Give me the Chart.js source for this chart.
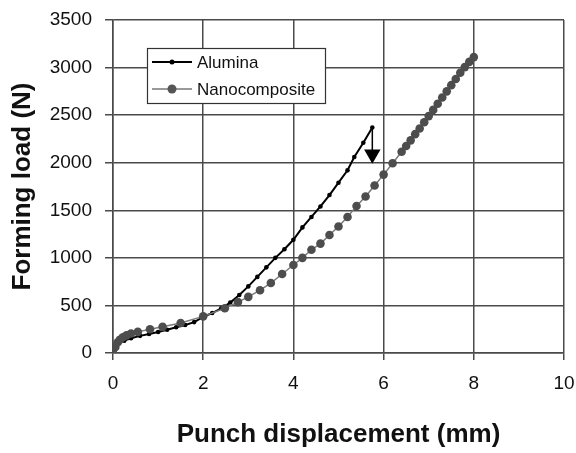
<!DOCTYPE html>
<html>
<head>
<meta charset="utf-8">
<script src="https://cdn.jsdelivr.net/npm/chart.js@4.4.1/dist/chart.umd.min.js"></script>
<style>
  html, body { margin: 0; padding: 0; background: #fff; }
  #wrap { width: 576px; height: 453px; }
</style>
</head>
<body>
<div id="wrap"><canvas id="myChart"></canvas></div>
<script>
// punch displacement (mm) / forming load (N)
let aluminaX = [0, 0.03, 0.08, 0.15, 0.25, 0.4, 0.6, 0.8, 1.0, 1.2, 1.4, 1.6, 1.8, 2.0,
    2.2, 2.4, 2.6, 2.8, 3.0, 3.2, 3.4, 3.6, 3.8, 4.0, 4.2, 4.4, 4.6, 4.8, 5.0, 5.2, 5.35, 5.55, 5.75];
let aluminaY = [0, 40, 80, 110, 130, 155, 180, 200, 220, 245, 270, 295, 325, 380,
    420, 470, 530, 610, 700, 800, 900, 1000, 1090, 1190, 1320, 1430, 1540, 1660, 1790, 1920, 2060, 2210, 2370];

let nanoX = [0, 0.05, 0.1, 0.15, 0.22, 0.3, 0.4, 0.55, 0.82, 1.1, 1.5, 2.0, 2.48, 2.77, 3.0, 3.26, 3.5,
    3.75, 4.0, 4.2, 4.4, 4.6, 4.8, 5.0, 5.2, 5.4, 5.6, 5.8, 6.0, 6.2, 6.4, 6.5, 6.6, 6.7, 6.8, 6.9,
    7.0, 7.1, 7.2, 7.3, 7.4, 7.5, 7.6, 7.7, 7.8, 7.9, 8.0];
let nanoY = [0, 60, 110, 140, 165, 185, 205, 222, 250, 275, 315, 385, 470, 535, 590, 660, 735,
    830, 925, 1000, 1085, 1150, 1240, 1330, 1430, 1545, 1645, 1760, 1875, 1995, 2115, 2175, 2235, 2300, 2360, 2425,
    2490, 2555, 2620, 2685, 2750, 2815, 2880, 2945, 3005, 3060, 3110];

// arrow drop after alumina failure
let arrowTipLoad = 2090;

let xTicks = [0, 2, 4, 6, 8, 10];
let yTicks = [0, 500, 1000, 1500, 2000, 2500, 3000, 3500];

let seriesNames = ['Alumina', 'Nanocomposite'];

function toPoints(xs, ys) {
    return xs.map(function(x, i) { return {x: x, y: ys[i]}; });
}

let FONT = "'Liberation Sans', Arial, Helvetica, sans-serif";
let GRID = '#4a4a4a';

let lastX = aluminaX[aluminaX.length - 1];
let lastY = aluminaY[aluminaY.length - 1];

// legend box drawn inside the plot, like the original
let boxLegend = {
    id: 'boxLegend',
    afterDatasetsDraw: function(chart) {
        let ctx = chart.ctx;
        let area = chart.chartArea;
        let bx = area.left + 34, by = area.top + 28, bw = 178, bh = 55;
        ctx.save();
        ctx.fillStyle = '#fff';
        ctx.fillRect(bx, by, bw, bh);
        ctx.strokeStyle = '#333';
        ctx.lineWidth = 1.2;
        ctx.strokeRect(bx + 0.5, by + 0.5, bw, bh);

        let items = [
            {text: seriesNames[0], color: '#000', width: 2, r: 2.5, y: by + 14},
            {text: seriesNames[1], color: '#777', width: 1.5, r: 4.5, y: by + 41}
        ];
        items.forEach(function(it, i) {
            ctx.strokeStyle = it.color;
            ctx.lineWidth = it.width;
            ctx.beginPath();
            ctx.moveTo(bx + 5, it.y);
            ctx.lineTo(bx + 45, it.y);
            ctx.stroke();
            ctx.fillStyle = i == 0 ? '#000' : '#555';
            ctx.beginPath();
            ctx.arc(bx + 25, it.y, it.r, 0, Math.PI * 2);
            ctx.fill();
            ctx.fillStyle = '#111';
            ctx.font = '17px ' + FONT;
            ctx.textBaseline = 'middle';
            ctx.textAlign = 'left';
            ctx.fillText(it.text, bx + 50, it.y + 1);
        });
        ctx.restore();
    }
};

let data = {
    datasets: [
        {
            label: seriesNames[0],
            data: toPoints(aluminaX, aluminaY),
            borderColor: '#000',
            backgroundColor: '#000',
            borderWidth: 2,
            pointRadius: 2.3,
            pointBorderWidth: 0,
            order: 2,
        }, {
            label: seriesNames[1],
            data: toPoints(nanoX, nanoY),
            borderColor: '#7a7a7a',
            backgroundColor: '#4d4d4d',
            borderWidth: 1.5,
            pointRadius: 4.3,
            pointBorderWidth: 0,
            order: 1,
        }, {
            label: 'arrow',
            data: [{x: lastX, y: lastY}, {x: lastX, y: arrowTipLoad}],
            borderColor: '#000',
            backgroundColor: '#000',
            borderWidth: 1.5,
            pointStyle: 'triangle',
            pointRotation: 180,
            pointRadius: [0, 9.5],
            pointBorderWidth: 0,
            order: 0,
        }
    ]
};

let config = {
    type: 'line',
    data: data,
    options: {
        responsive: true,
        maintainAspectRatio: false,
        animation: false,
        layout: { padding: { top: 20, right: 12, bottom: 0, left: 0 } },
        plugins: {
            legend: { display: false },
            tooltip: { enabled: false },
        },
        scales: {
            x: {
                type: 'linear',
                min: 0,
                max: 10,
                afterBuildTicks: function(scale) {
                    scale.ticks = xTicks.map(function(v) { return {value: v}; });
                },
                afterFit: function(scale) {
                    scale.height = 100;
                    scale.paddingLeft = 0;
                    scale.paddingRight = 0;
                },
                grid: { color: GRID, lineWidth: 1.5, tickLength: 7, tickColor: GRID },
                border: { color: GRID, width: 1.5 },
                ticks: {
                    color: '#111',
                    padding: 12,
                    font: { family: FONT, size: 19 },
                    callback: function(v) { return String(v); },
                },
                title: {
                    display: true,
                    text: 'Punch displacement (mm)',
                    color: '#111',
                    font: { family: FONT, size: 26, weight: 'bold' },
                    padding: { top: 0, bottom: 3 },
                },
            },
            y: {
                type: 'linear',
                min: 0,
                max: 3500,
                afterBuildTicks: function(scale) {
                    scale.ticks = yTicks.map(function(v) { return {value: v}; });
                },
                afterFit: function(scale) {
                    scale.width = 113;
                    scale.paddingTop = 0;
                    scale.paddingBottom = 0;
                },
                grid: { color: GRID, lineWidth: 1.5, tickLength: 8, tickColor: GRID },
                border: { color: GRID, width: 1.5 },
                ticks: {
                    color: '#111',
                    padding: 13,
                    font: { family: FONT, size: 19 },
                    callback: function(v) { return String(v); },
                },
                title: {
                    display: true,
                    text: 'Forming load (N)',
                    color: '#111',
                    font: { family: FONT, size: 26, weight: 'bold' },
                    padding: { top: 7, bottom: 0 },
                },
            }
        }
    },
    plugins: [boxLegend]
};

let myChart = new Chart(document.getElementById('myChart'), config);
</script>
</body>
</html>
